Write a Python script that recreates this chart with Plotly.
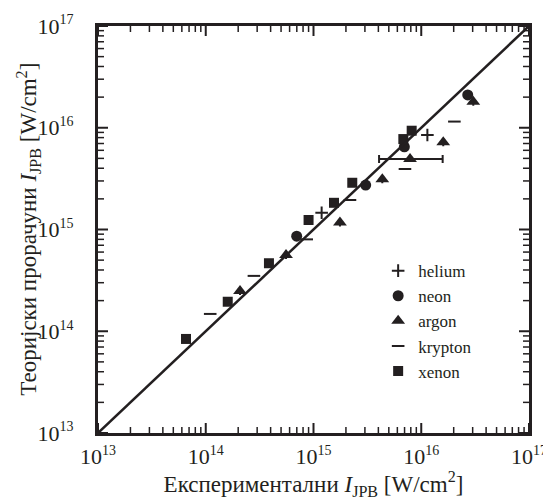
import plotly.graph_objects as go

# Experimental (x) vs. calculated (y) intensities, W/cm^2
helium_exp = [1.19e15, 1.14e16]
helium_th = [1.46e15, 8.5e15]

neon_exp = [6.98e14, 3.05e15, 6.97e15, 2.7e16]
neon_th = [8.6e14, 2.73e15, 6.5e15, 2.1e16]

argon_exp = [2.08e14, 5.56e14, 1.76e15, 4.35e15, 7.87e15, 1.6e16, 3.04e16]
argon_th = [2.49e14, 5.6e14, 1.17e15, 3.11e15, 4.93e15, 7.2e15, 1.8e16]
# horizontal error range for one argon point (low, high); None = no bar
argon_err_lo = [None, None, None, None, 4.06e15, None, None]
argon_err_hi = [None, None, None, None, 1.58e16, None, None]

krypton_exp = [1.1e14, 2.8e14, 8.65e14, 2.18e15, 7.06e15, 2.03e16]
krypton_th = [1.48e14, 3.5e14, 8.0e14, 1.95e15, 3.93e15, 1.15e16]

xenon_exp = [6.56e13, 1.6e14, 3.86e14, 9.0e14, 1.55e15, 2.29e15, 6.82e15, 8.15e15]
xenon_th = [8.4e13, 1.95e14, 4.66e14, 1.24e15, 1.83e15, 2.88e15, 7.74e15, 9.35e15]

decades = [13, 14, 15, 16, 17]
axis_range = [10.0 ** decades[0], 10.0 ** decades[-1]]
major_vals = [10.0 ** d for d in decades]
major_text = [f'10<sup><span style="font-size:14px">{d}</span></sup>' for d in decades]
minor_vals = [m * 10.0 ** d for d in decades[:-1] for m in range(2, 10)]

FONT = "Liberation Serif"
INK = "#231f20"

W, H = 543, 500
MARGIN = dict(l=98, r=14, t=26, b=67)
n_dec = decades[-1] - decades[0]
px_per_dec_x = (W - MARGIN["l"] - MARGIN["r"]) / n_dec
px_per_dec_y = (H - MARGIN["t"] - MARGIN["b"]) / n_dec

fig = go.Figure()

# Inward tick marks on all four sides of the frame, as line segments whose
# pixel length is converted to a factor on the log scale
lo, hi = axis_range
for vals, length, width in ((major_vals, 10, 2), (minor_vals, 6, 1.5)):
    fx = 10 ** (length / px_per_dec_x)
    fy = 10 ** (length / px_per_dec_y)
    tx, ty = [], []
    for v in vals:
        tx += [v, v, None, v, v, None]
        ty += [lo, lo * fy, None, hi, hi / fy, None]
        tx += [lo, lo * fx, None, hi, hi / fx, None]
        ty += [v, v, None, v, v, None]
    fig.add_trace(go.Scatter(
        x=tx, y=ty, mode="lines", line=dict(color=INK, width=width),
        showlegend=False, hoverinfo="skip", connectgaps=False,
    ))

err_plus = [None if h is None else h - x for h, x in zip(argon_err_hi, argon_exp)]
err_minus = [None if l is None else x - l for l, x in zip(argon_err_lo, argon_exp)]

series = [
    ("helium", helium_exp, helium_th, dict(symbol="cross-thin", size=9, line=dict(width=2, color=INK))),
    ("neon", neon_exp, neon_th, dict(symbol="circle", size=11, line=dict(width=0))),
    ("argon", argon_exp, argon_th, dict(symbol="triangle-up", size=12, line=dict(width=0))),
    ("krypton", krypton_exp, krypton_th, dict(symbol="line-ew", size=9, line=dict(width=2, color=INK))),
    ("xenon", xenon_exp, xenon_th, dict(symbol="square", size=10, line=dict(width=0))),
]

for name, xs, ys, mk in series:
    kw = {}
    if name == "argon":
        kw["error_x"] = dict(type="data", symmetric=False, array=err_plus,
                             arrayminus=err_minus, color=INK, thickness=2, width=4)
    fig.add_trace(go.Scatter(
        x=xs, y=ys, mode="markers", name=name,
        marker=dict(color=INK, **mk), **kw,
    ))

# y = x reference line
fig.add_trace(go.Scatter(
    x=axis_range, y=axis_range, mode="lines",
    line=dict(color=INK, width=2.5), showlegend=False, hoverinfo="skip",
))

axis_base = dict(
    type="log", range=[decades[0], decades[-1]], showgrid=False, zeroline=False,
    automargin=False, tickmode="array", tickvals=major_vals, ticktext=major_text,
    ticks="", showline=True, linewidth=3, linecolor=INK, mirror=True,
    tickfont=dict(family=FONT, size=22, color=INK),
)

fig.update_layout(
    width=W, height=H,
    margin=MARGIN,
    font=dict(family=FONT, color=INK),
    paper_bgcolor="white",
    plot_bgcolor="white",
    xaxis=dict(
        axis_base, ticklabeloverflow="allow", ticklabelstandoff=2,
        title=dict(text="Експериментални <i>I</i><sub>JPB</sub> [W/cm<sup>2</sup>]",
                   font=dict(family=FONT, size=23, color=INK), standoff=11),
    ),
    yaxis=dict(axis_base, ticklabelstandoff=17),
    annotations=[dict(
        text="Теоријски прорачуни <i>I</i><sub>JPB</sub> [W/cm<sup>2</sup>]",
        textangle=-90, xref="paper", yref="paper", x=-0.162, y=0.5,
        xanchor="center", yanchor="middle", showarrow=False,
        font=dict(family=FONT, size=23, color=INK),
    )],
    legend=dict(
        x=0.650, y=0.442, xanchor="left", yanchor="top",
        font=dict(family=FONT, size=17, color=INK),
        bgcolor="rgba(0,0,0,0)", itemwidth=30, tracegroupgap=0,
    ),
)

fig.write_html("out.html")
